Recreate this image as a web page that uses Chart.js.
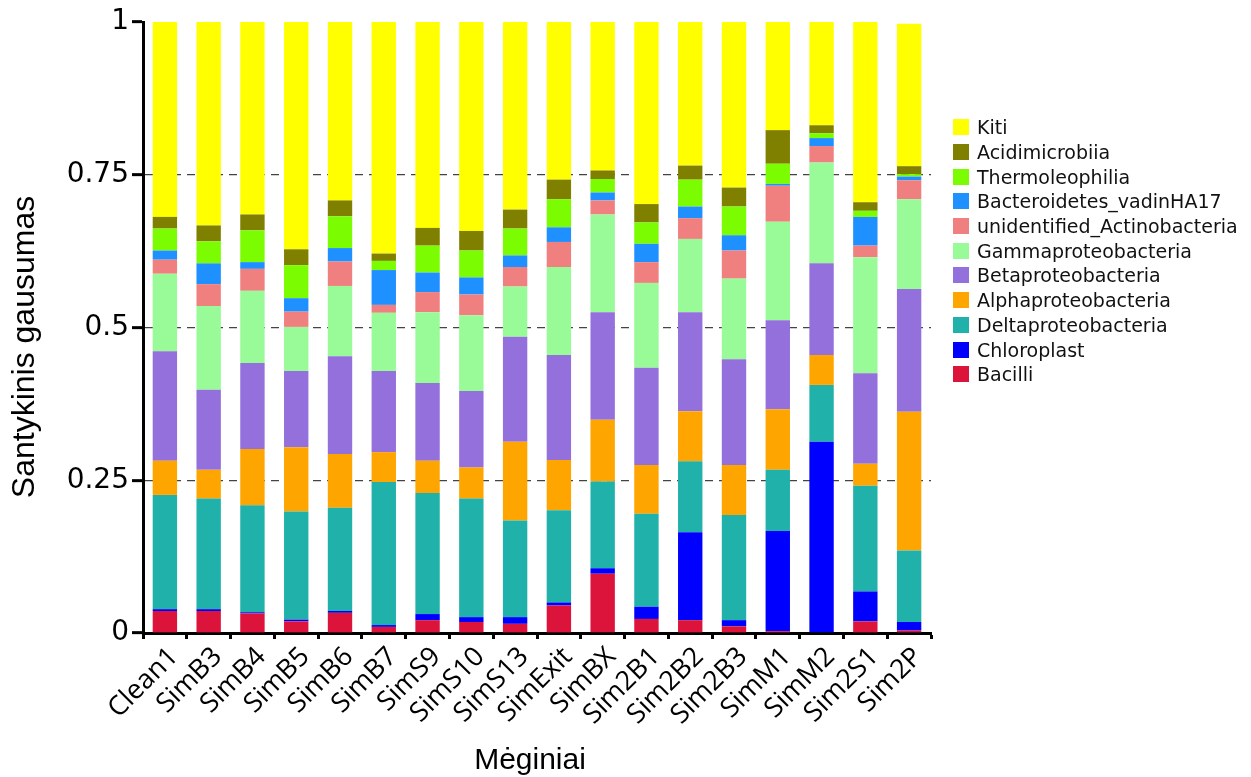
<!DOCTYPE html>
<html lang="lt">
  <head>
    <meta charset="UTF-8" />
    <title>Santykinis gausumas</title>
    <script src="https://cdn.jsdelivr.net/npm/chart.js"></script>
    <style>
      body { margin: 0; background: #fff; }
      #wrap { position: relative; width: 1251px; height: 777px; }
      #legend { position: absolute; left: 953px; top: 115px; font: 19px "DejaVu Sans", sans-serif; color: #111; }
      #legend div { height: 24.7px; display: flex; align-items: center; white-space: nowrap; }
      #legend span.box { width: 16px; height: 16px; margin-right: 8px; display: inline-block; }
    </style>
  </head>
  <body>
    <div id="wrap">
      <canvas id="myChart" width="1251" height="777"></canvas>
      <div id="legend"></div>
    </div>
  </body>
  <script>
    // mėginiai
    const samples = ["Clean1", "SimB3", "SimB4", "SimB5", "SimB6", "SimB7", "SimS9", "SimS10", "SimS13",
      "SimExit", "SimBX", "Sim2B1", "Sim2B2", "Sim2B3", "SimM1", "SimM2", "Sim2S1", "Sim2P"];

    // santykinis gausumas pagal klases (iš apačios į viršų)
    const bacilli = [0.036, 0.036, 0.032, 0.019, 0.033, 0.010, 0.021, 0.018, 0.015, 0.045, 0.097, 0.023, 0.021, 0.011, 0.003, 0.000, 0.019, 0.004];
    const chloroplast = [0.003, 0.003, 0.002, 0.003, 0.003, 0.003, 0.010, 0.008, 0.011, 0.005, 0.009, 0.020, 0.144, 0.010, 0.164, 0.313, 0.049, 0.014];
    const delta = [0.187, 0.181, 0.175, 0.177, 0.169, 0.234, 0.198, 0.194, 0.158, 0.151, 0.142, 0.152, 0.116, 0.172, 0.100, 0.093, 0.173, 0.117];
    const alpha = [0.056, 0.047, 0.092, 0.105, 0.088, 0.049, 0.053, 0.051, 0.129, 0.082, 0.101, 0.080, 0.082, 0.082, 0.099, 0.049, 0.036, 0.227];
    const beta = [0.179, 0.131, 0.141, 0.125, 0.160, 0.133, 0.127, 0.125, 0.172, 0.172, 0.176, 0.159, 0.162, 0.173, 0.146, 0.150, 0.148, 0.201];
    const gamma = [0.127, 0.137, 0.118, 0.072, 0.115, 0.095, 0.116, 0.124, 0.082, 0.144, 0.160, 0.139, 0.120, 0.132, 0.161, 0.165, 0.190, 0.147];
    const unidActino = [0.023, 0.036, 0.036, 0.025, 0.040, 0.013, 0.033, 0.034, 0.032, 0.041, 0.023, 0.034, 0.034, 0.046, 0.059, 0.027, 0.019, 0.031];
    const bacteroidetes = [0.015, 0.034, 0.011, 0.022, 0.022, 0.057, 0.032, 0.028, 0.019, 0.024, 0.013, 0.030, 0.019, 0.025, 0.003, 0.013, 0.047, 0.006];
    const thermo = [0.036, 0.036, 0.052, 0.054, 0.052, 0.015, 0.044, 0.044, 0.044, 0.046, 0.022, 0.035, 0.044, 0.047, 0.033, 0.008, 0.010, 0.004];
    const acidi = [0.019, 0.026, 0.026, 0.026, 0.026, 0.012, 0.029, 0.032, 0.031, 0.032, 0.014, 0.030, 0.023, 0.031, 0.055, 0.013, 0.014, 0.013];
    const kiti = [0.319, 0.333, 0.315, 0.372, 0.292, 0.379, 0.337, 0.342, 0.307, 0.258, 0.243, 0.298, 0.235, 0.271, 0.177, 0.169, 0.295, 0.233];

    // y ašies žymės
    const yTickLabels = ["0", "0.25", "0.5", "0.75", "1"];

    const series = [
      { label: "Bacilli", data: bacilli, color: "#dc143c" },
      { label: "Chloroplast", data: chloroplast, color: "#0000ff" },
      { label: "Deltaproteobacteria", data: delta, color: "#20b2aa" },
      { label: "Alphaproteobacteria", data: alpha, color: "#ffa500" },
      { label: "Betaproteobacteria", data: beta, color: "#9370db" },
      { label: "Gammaproteobacteria", data: gamma, color: "#98fb98" },
      { label: "unidentified_Actinobacteria", data: unidActino, color: "#f08080" },
      { label: "Bacteroidetes_vadinHA17", data: bacteroidetes, color: "#1e90ff" },
      { label: "Thermoleophilia", data: thermo, color: "#7cfc00" },
      { label: "Acidimicrobiia", data: acidi, color: "#808000" },
      { label: "Kiti", data: kiti, color: "#ffff00" },
    ];

    // ašių pavadinimai piešiami atskirai, kad būtų tiksliai ten, kur reikia
    const axisTitlePlugin = {
      id: "axisTitles",
      afterDraw(chart) {
        const c = chart.ctx;
        c.save();
        c.fillStyle = "#000";
        c.textAlign = "center";
        c.textBaseline = "middle";
        c.font = "30px 'Liberation Sans'";
        c.fillText("Mėginiai", 530, 761);
        c.translate(25, 347);
        c.rotate(-Math.PI / 2);
        c.font = "32px 'Liberation Sans'";
        c.fillText("Santykinis gausumas", 0, 0);
        c.restore();
      },
    };

    const ctx = document.querySelector("#myChart");

    const chart = new Chart(ctx, {
      type: "bar",
      data: {
        labels: samples,
        datasets: series.map((s) => ({
          label: s.label,
          data: s.data,
          backgroundColor: s.color,
          borderWidth: 0,
          barPercentage: 0.557,
          categoryPercentage: 1,
        })),
      },
      plugins: [axisTitlePlugin],
      options: {
        responsive: false,
        animation: false,
        layout: { padding: { top: 22, right: 320, bottom: 0, left: 0 } },
        plugins: { legend: { display: false }, tooltip: { enabled: false } },
        scales: {
          x: {
            stacked: true,
            grid: { drawOnChartArea: false, tickColor: "#000", tickWidth: 3, tickLength: 6 },
            border: { color: "#000", width: 3 },
            ticks: {
              autoSkip: false,
              minRotation: 45,
              maxRotation: 45,
              labelOffset: 9,
              color: "#000",
              padding: 2,
              font: { family: "Open Sans", size: 27 },
            },
            afterFit: (scale) => { scale.height = 144; },
          },
          y: {
            stacked: true,
            min: 0,
            max: 1,
            grid: {
              color: (c) => (c.tick && c.tick.value > 0 && c.tick.value < 1 ? "#444" : "rgba(0,0,0,0)"),
              lineWidth: 1.3,
              tickColor: "#000",
              tickWidth: 3,
              tickLength: 11,
            },
            border: { color: "#000", width: 3, dash: [8, 6] },
            ticks: {
              stepSize: 0.25,
              color: "#000",
              padding: 3,
              font: { family: "DejaVu Sans", size: 28 },
              callback: (v, i) => yTickLabels[i],
            },
            afterFit: (scale) => { scale.width = 143; },
          },
        },
      },
    });

    // legenda: Kiti viršuje, kaip stulpeliuose
    const legendEl = document.querySelector("#legend");
    series.slice().reverse().forEach((s) => {
      const row = document.createElement("div");
      const box = document.createElement("span");
      box.className = "box";
      box.style.background = s.color;
      row.appendChild(box);
      row.appendChild(document.createTextNode(s.label));
      legendEl.appendChild(row);
    });
  </script>
</html>
